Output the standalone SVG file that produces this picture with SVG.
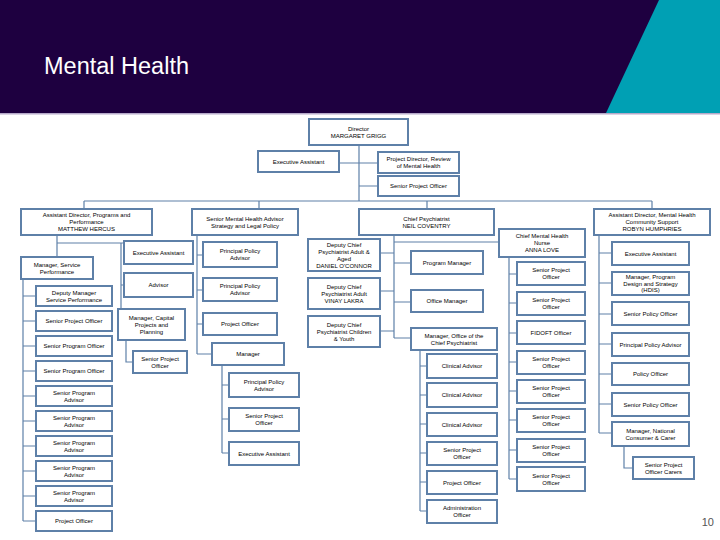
<svg xmlns="http://www.w3.org/2000/svg" width="720" height="540" viewBox="0 0 720 540">
<style>
.box{fill:#fff;stroke:#5e80a8;stroke-width:2}
.t{font-family:"Liberation Sans",Arial,sans-serif;font-size:6px;text-anchor:middle;fill:#000}
.c{stroke:#5e80a8;stroke-width:1.2;fill:none}
</style>
<rect x="0" y="0" width="720" height="540" fill="#fff"/>
<rect x="0" y="0" width="720" height="113" fill="#1e0040"/>
<polygon points="659,0 720,0 720,113 606,113" fill="#00a0b4"/>
<rect x="0" y="113" width="720" height="1.5" fill="#b6a9c9"/>
<text x="44" y="74" font-family="'Liberation Sans',Arial,sans-serif" font-size="23.5" fill="#fff">Mental Health</text>
<text x="714" y="526" font-family="'Liberation Sans',Arial,sans-serif" font-size="11" fill="#555" text-anchor="end">10</text>

<g id="connectors" class="c">
<path d="M359,145V201M339,163H378M359,186H378"/>
<path d="M84,201H652M84,201V209M259,201V209M427,201V209M652,201V209"/>
<path d="M57,235V257M57,243H124M121,243V309M121,285H124M126,340V362H133"/>
<path d="M23,279V521M23,296H36M23,321H36M23,346H36M23,371H36M23,396H36M23,421H36M23,446H36M23,471H36M23,496H36M23,521H36"/>
<path d="M197,235V354M197,255H203M197,290H203M197,324H203M197,354H212"/>
<path d="M222,365V453M222,385H229M222,419H229M222,453H229"/>
<path d="M394,235V338M394,242H499M380,253H394M380,291H394M380,331H394M394,263H411M394,302H411M394,338H411"/>
<path d="M420,350V511M420,366H427M420,395H427M420,424H427M420,453H427M420,482H427M420,511H427"/>
<path d="M509,257V479M509,274H517M509,303H517M509,333H517M509,362H517M509,391H517M509,420H517M509,450H517M509,479H517"/>
<path d="M599,235V433M599,253H612M599,283H612M599,314H612M599,344H612M599,374H612M599,404H612M599,433H612M624,446V468H633"/>
</g>

<g id="director"><rect class="box" x="309" y="119" width="99" height="26"/><text class="t"><tspan x="358.5" y="130.5">Director</tspan><tspan x="358.5" y="138">MARGARET GRIGG</tspan></text></g>
<g id="exec-director"><rect class="box" x="258" y="151" width="81" height="21"/><text class="t" x="298.5" y="163.5">Executive Assistant</text></g>
<g id="project-director-review"><rect class="box" x="378" y="152" width="81" height="21"/><text class="t"><tspan x="418.5" y="161">Project Director, Review</tspan><tspan x="418.5" y="168">of Mental Health</tspan></text></g>
<g id="spo-director"><rect class="box" x="378" y="176" width="81" height="20"/><text class="t" x="418.5" y="188">Senior Project Officer</text></g>

<g id="ad-programs"><rect class="box" x="21" y="209" width="131" height="26"/><text class="t"><tspan x="86.5" y="217">Assistant Director, Programs and</tspan><tspan x="86.5" y="224">Performance</tspan><tspan x="86.5" y="231">MATTHEW HERCUS</tspan></text></g>
<g id="smha"><rect class="box" x="192" y="209" width="106" height="26"/><text class="t"><tspan x="245" y="220.5">Senior Mental Health Advisor</tspan><tspan x="245" y="227.5">Strategy and Legal Policy</tspan></text></g>
<g id="chief-psychiatrist"><rect class="box" x="359" y="209" width="135" height="26"/><text class="t"><tspan x="426.5" y="220.5">Chief Psychiatrist</tspan><tspan x="426.5" y="227.5">NEIL COVENTRY</tspan></text></g>
<g id="ad-community"><rect class="box" x="594" y="209" width="116" height="26"/><text class="t"><tspan x="652" y="217">Assistant Director, Mental Health</tspan><tspan x="652" y="224">Community Support</tspan><tspan x="652" y="231">ROBYN HUMPHRIES</tspan></text></g>
<g id="nurse"><rect class="box" x="499" y="229" width="86" height="28"/><text class="t"><tspan x="542" y="238">Chief Mental Health</tspan><tspan x="542" y="245">Nurse</tspan><tspan x="542" y="252">ANNA LOVE</tspan></text></g>

<g id="ea-programs"><rect class="box" x="124" y="241" width="69" height="23"/><text class="t" x="158.5" y="254.5">Executive Assistant</text></g>
<g id="mgr-service-perf"><rect class="box" x="21" y="257" width="72" height="22"/><text class="t"><tspan x="57" y="266.5">Manager, Service</tspan><tspan x="57" y="273.5">Performance</tspan></text></g>
<g id="advisor"><rect class="box" x="124" y="273" width="69" height="24"/><text class="t" x="158.5" y="287">Advisor</text></g>
<g id="mgr-capital"><rect class="box" x="118" y="309" width="67" height="31"/><text class="t"><tspan x="151.5" y="319.5">Manager, Capital</tspan><tspan x="151.5" y="326.5">Projects and</tspan><tspan x="151.5" y="333.5">Planning</tspan></text></g>
<g id="spo-capital"><rect class="box" x="133" y="351" width="54" height="22"/><text class="t"><tspan x="160" y="360.5">Senior Project</tspan><tspan x="160" y="367.5">Officer</tspan></text></g>

<g id="dep-mgr-sp"><rect class="box" x="36" y="286" width="76" height="20"/><text class="t"><tspan x="74" y="294.5">Deputy Manager</tspan><tspan x="74" y="301.5">Service Performance</tspan></text></g>
<g id="spo-sp"><rect class="box" x="36" y="311" width="76" height="20"/><text class="t" x="74" y="323">Senior Project Officer</text></g>
<g id="sprog-off-1"><rect class="box" x="36" y="336" width="76" height="20"/><text class="t" x="74" y="348">Senior Program Officer</text></g>
<g id="sprog-off-2"><rect class="box" x="36" y="361" width="76" height="20"/><text class="t" x="74" y="373">Senior Program Officer</text></g>
<g id="spa-1"><rect class="box" x="36" y="386" width="76" height="20"/><text class="t"><tspan x="74" y="394.5">Senior Program</tspan><tspan x="74" y="401.5">Advisor</tspan></text></g>
<g id="spa-2"><rect class="box" x="36" y="411" width="76" height="20"/><text class="t"><tspan x="74" y="419.5">Senior Program</tspan><tspan x="74" y="426.5">Advisor</tspan></text></g>
<g id="spa-3"><rect class="box" x="36" y="436" width="76" height="20"/><text class="t"><tspan x="74" y="444.5">Senior Program</tspan><tspan x="74" y="451.5">Advisor</tspan></text></g>
<g id="spa-4"><rect class="box" x="36" y="461" width="76" height="20"/><text class="t"><tspan x="74" y="469.5">Senior Program</tspan><tspan x="74" y="476.5">Advisor</tspan></text></g>
<g id="spa-5"><rect class="box" x="36" y="486" width="76" height="20"/><text class="t"><tspan x="74" y="494.5">Senior Program</tspan><tspan x="74" y="501.5">Advisor</tspan></text></g>
<g id="po-sp"><rect class="box" x="36" y="511" width="76" height="20"/><text class="t" x="74" y="523">Project Officer</text></g>

<g id="ppa-s1"><rect class="box" x="203" y="242" width="74" height="25"/><text class="t"><tspan x="240" y="253">Principal Policy</tspan><tspan x="240" y="260">Advisor</tspan></text></g>
<g id="ppa-s2"><rect class="box" x="203" y="278" width="74" height="23"/><text class="t"><tspan x="240" y="288">Principal Policy</tspan><tspan x="240" y="295">Advisor</tspan></text></g>
<g id="po-s"><rect class="box" x="203" y="313" width="74" height="22"/><text class="t" x="240" y="326">Project Officer</text></g>
<g id="mgr-s"><rect class="box" x="212" y="343" width="72" height="22"/><text class="t" x="248" y="356">Manager</text></g>
<g id="ppa-m"><rect class="box" x="229" y="373" width="70" height="24"/><text class="t"><tspan x="264" y="383.5">Principal Policy</tspan><tspan x="264" y="390.5">Advisor</tspan></text></g>
<g id="spo-m"><rect class="box" x="229" y="408" width="70" height="23"/><text class="t"><tspan x="264" y="418">Senior Project</tspan><tspan x="264" y="425">Officer</tspan></text></g>
<g id="ea-m"><rect class="box" x="229" y="442" width="70" height="23"/><text class="t" x="264" y="455.5">Executive Assistant</text></g>

<g id="dcp-adult-aged"><rect class="box" x="308" y="239" width="72" height="32"/><text class="t"><tspan x="344" y="246.5">Deputy Chief</tspan><tspan x="344" y="253.5">Psychiatrist Adult &amp;</tspan><tspan x="344" y="260.5">Aged</tspan><tspan x="344" y="267.5">DANIEL O'CONNOR</tspan></text></g>
<g id="dcp-adult"><rect class="box" x="308" y="278" width="72" height="31"/><text class="t"><tspan x="344" y="288.5">Deputy Chief</tspan><tspan x="344" y="295.5">Psychiatrist Adult</tspan><tspan x="344" y="302.5">VINAY LAKRA</tspan></text></g>
<g id="dcp-cy"><rect class="box" x="308" y="316" width="72" height="31"/><text class="t"><tspan x="344" y="326.5">Deputy Chief</tspan><tspan x="344" y="333.5">Psychiatrist Children</tspan><tspan x="344" y="340.5">&amp; Youth</tspan></text></g>
<g id="program-manager"><rect class="box" x="411" y="251" width="72" height="23"/><text class="t" x="447" y="264.5">Program Manager</text></g>
<g id="office-manager"><rect class="box" x="411" y="290" width="72" height="22"/><text class="t" x="447" y="303">Office Manager</text></g>
<g id="mgr-ocp"><rect class="box" x="411" y="328" width="86" height="22"/><text class="t"><tspan x="454" y="337.5">Manager, Office of the</tspan><tspan x="454" y="344.5">Chief Psychiatrist</tspan></text></g>
<g id="ca-1"><rect class="box" x="427" y="354" width="70" height="24"/><text class="t" x="462" y="368">Clinical Advisor</text></g>
<g id="ca-2"><rect class="box" x="427" y="383" width="70" height="24"/><text class="t" x="462" y="397">Clinical Advisor</text></g>
<g id="ca-3"><rect class="box" x="427" y="413" width="70" height="23"/><text class="t" x="462" y="426.5">Clinical Advisor</text></g>
<g id="spo-ocp"><rect class="box" x="427" y="442" width="70" height="23"/><text class="t"><tspan x="462" y="452">Senior Project</tspan><tspan x="462" y="459">Officer</tspan></text></g>
<g id="po-ocp"><rect class="box" x="427" y="471" width="70" height="23"/><text class="t" x="462" y="484.5">Project Officer</text></g>
<g id="admin-ocp"><rect class="box" x="427" y="500" width="70" height="23"/><text class="t"><tspan x="462" y="510">Administration</tspan><tspan x="462" y="517">Officer</tspan></text></g>

<g id="spo-n1"><rect class="box" x="517" y="262" width="68" height="23"/><text class="t"><tspan x="551" y="272">Senior Project</tspan><tspan x="551" y="279">Officer</tspan></text></g>
<g id="spo-n2"><rect class="box" x="517" y="292" width="68" height="23"/><text class="t"><tspan x="551" y="302">Senior Project</tspan><tspan x="551" y="309">Officer</tspan></text></g>
<g id="fidoft"><rect class="box" x="517" y="321" width="68" height="23"/><text class="t" x="551" y="334.5">FIDOFT Officer</text></g>
<g id="spo-n3"><rect class="box" x="517" y="351" width="68" height="23"/><text class="t"><tspan x="551" y="361">Senior Project</tspan><tspan x="551" y="368">Officer</tspan></text></g>
<g id="spo-n4"><rect class="box" x="517" y="380" width="68" height="23"/><text class="t"><tspan x="551" y="390">Senior Project</tspan><tspan x="551" y="397">Officer</tspan></text></g>
<g id="spo-n5"><rect class="box" x="517" y="409" width="68" height="23"/><text class="t"><tspan x="551" y="419">Senior Project</tspan><tspan x="551" y="426">Officer</tspan></text></g>
<g id="spo-n6"><rect class="box" x="517" y="439" width="68" height="23"/><text class="t"><tspan x="551" y="449">Senior Project</tspan><tspan x="551" y="456">Officer</tspan></text></g>
<g id="spo-n7"><rect class="box" x="517" y="467" width="68" height="24"/><text class="t"><tspan x="551" y="477.5">Senior Project</tspan><tspan x="551" y="484.5">Officer</tspan></text></g>

<g id="ea-comm"><rect class="box" x="612" y="242" width="77" height="23"/><text class="t" x="650.5" y="255.5">Executive Assistant</text></g>
<g id="mgr-pds"><rect class="box" x="612" y="272" width="77" height="23"/><text class="t"><tspan x="650.5" y="279">Manager, Program</tspan><tspan x="650.5" y="285.5">Design and Strategy</tspan><tspan x="650.5" y="292">(HDIS)</tspan></text></g>
<g id="spol-c1"><rect class="box" x="612" y="302" width="77" height="23"/><text class="t" x="650.5" y="315.5">Senior Policy Officer</text></g>
<g id="ppa-c"><rect class="box" x="612" y="333" width="77" height="23"/><text class="t" x="650.5" y="346.5">Principal Policy Advisor</text></g>
<g id="pol-c"><rect class="box" x="612" y="363" width="77" height="22"/><text class="t" x="650.5" y="376">Policy Officer</text></g>
<g id="spol-c2"><rect class="box" x="612" y="393" width="77" height="23"/><text class="t" x="650.5" y="406.5">Senior Policy Officer</text></g>
<g id="mgr-ncc"><rect class="box" x="612" y="422" width="77" height="24"/><text class="t"><tspan x="650.5" y="432.5">Manager, National</tspan><tspan x="650.5" y="439.5">Consumer &amp; Carer</tspan></text></g>
<g id="spo-carers"><rect class="box" x="633" y="457" width="61" height="22"/><text class="t"><tspan x="663.5" y="466.5">Senior Project</tspan><tspan x="663.5" y="473.5">Officer Carers</tspan></text></g>
</svg>
